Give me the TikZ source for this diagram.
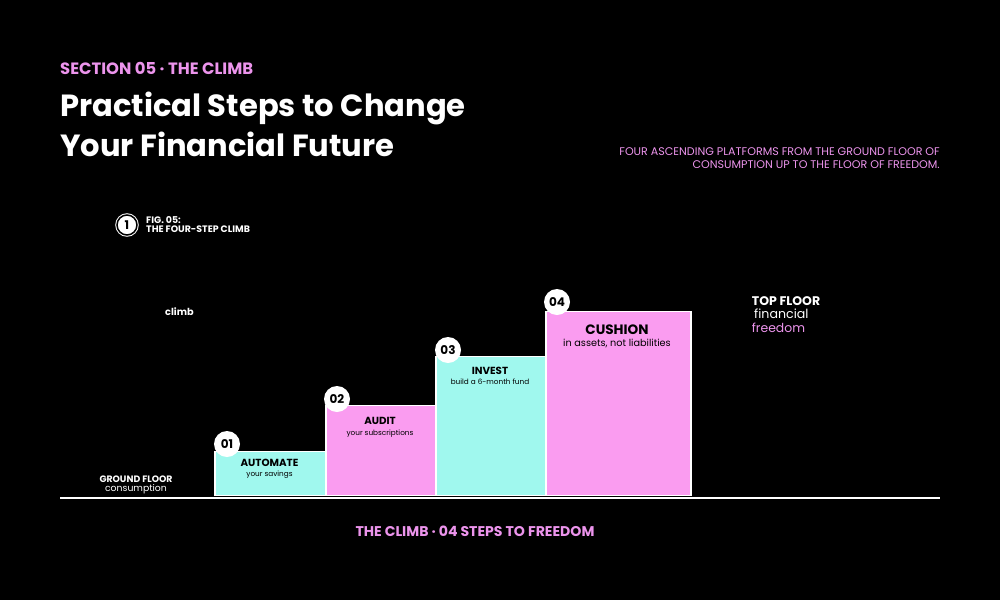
\documentclass[tikz,border=0pt]{standalone}
\usepackage{fontspec}
\setmainfont{Poppins}
\definecolor{pinktext}{HTML}{EC94EC}
\definecolor{stepcyan}{HTML}{A0F8EE}
\definecolor{steppink}{HTML}{FA9CF0}
\begin{document}
\begin{tikzpicture}[
	x=1pt, y=-1pt,
	every node/.style={inner sep=0pt, text=white},
	cyanstep/.style={shape=rectangle, fill=stepcyan, draw=white, line width=1.5pt, anchor=south west},
	pinkstep/.style={shape=rectangle, fill=steppink, draw=white, line width=1.5pt, anchor=south west},
	badge/.style={shape=circle, fill=white, minimum size=26pt, text=black, font=\fontsize{12}{12}\selectfont\bfseries},
	steptitle/.style={anchor=base, text=black, font=\fontsize{10.3}{11}\selectfont\bfseries},
	stepnote/.style={anchor=base, text=black, font=\fontsize{7.3}{8}\selectfont},
	floortitle/.style={font=\fontsize{9.3}{10}\selectfont\bfseries},
]
\fill[black] (0,0) rectangle (1000,600);
\node[anchor=base west, text=pinktext, font=\fontsize{16.4}{16}\selectfont\bfseries] (sec) at (60,74) {SECTION 05 · THE CLIMB};
\node[anchor=base west, font=\fontsize{30.6}{31}\selectfont\bfseries] (title1) at (60,116.5) {Practical Steps to Change};
\node[anchor=base west, font=\fontsize{30.6}{31}\selectfont\bfseries] (title2) at (60,156) {Your Financial Future};
\node[anchor=base east, text=pinktext, font=\fontsize{11.1}{11}\selectfont] (cap1) at (940,155.3) {FOUR ASCENDING PLATFORMS FROM THE GROUND FLOOR OF};
\node[anchor=base east, text=pinktext, font=\fontsize{11.1}{11}\selectfont] (cap2) at (940,168) {CONSUMPTION UP TO THE FLOOR OF FREEDOM.};

\node[shape=circle, fill=white, draw=white, line width=1pt, double=black, double distance=1.5pt, minimum size=20pt, text=black, font=\fontsize{12}{12}\selectfont\bfseries] (fig) at (127,225) {1};
\node[anchor=base west, font=\fontsize{9.4}{9}\selectfont\bfseries] (fig1) at (146,223.3) {FIG. 05:};
\node[anchor=base west, font=\fontsize{9.4}{9}\selectfont\bfseries] (fig2) at (146,232.7) {THE FOUR-STEP CLIMB};
\node[anchor=base west, font=\fontsize{9.7}{10}\selectfont\bfseries] (climb) at (165,315.7) {climb};

\node[cyanstep, minimum width=111pt, minimum height=44pt] (s1) at (214,496) {};
\node[pinkstep, minimum width=110pt, minimum height=90pt] (s2) at (325,496) {};
\node[cyanstep, minimum width=110pt, minimum height=139pt] (s3) at (435,496) {};
\node[pinkstep, minimum width=145pt, minimum height=184pt] (s4) at (545,496) {};
\coordinate (gl) at (60,498);
\coordinate (gr) at (940,498);
\draw[white, line width=1.5pt] (gl) -- (gr);

\node[badge] (b1) at (227,444) {01};
\node[badge] (b2) at (337,399) {02};
\node[badge] (b3) at (448,350) {03};
\node[badge] (b4) at (557,302) {04};

\node[steptitle] (t1) at (269.5,466.7) {AUTOMATE};
\node[stepnote] (n1) at (269.5,476) {your savings};
\node[steptitle] (t2) at (380,424.3) {AUDIT};
\node[stepnote] (n2) at (380,435.3) {your subscriptions};
\node[steptitle] (t3) at (490,374) {INVEST};
\node[stepnote] (n3) at (490,384) {build a 6-month fund};
\node[steptitle, font=\fontsize{13.6}{14}\selectfont\bfseries] (t4) at (617,334) {CUSHION};
\node[stepnote, font=\fontsize{9.7}{10}\selectfont] (n4) at (617,346.7) {in assets, not liabilities};

\node[floortitle, anchor=base] (ground) at (136,482.7) {GROUND FLOOR};
\node[anchor=base, font=\fontsize{9.3}{10}\selectfont] (groundnote) at (136,491.7) {consumption};
\node[anchor=base west, font=\fontsize{12.5}{13}\selectfont\bfseries] (top) at (751.7,305) {TOP FLOOR};
\node[anchor=base west, font=\fontsize{12.6}{13}\selectfont] (topnote1) at (754,318.3) {financial};
\node[anchor=base west, text=pinktext, font=\fontsize{12.4}{13}\selectfont] (topnote2) at (751.7,332.7) {freedom};

\node[anchor=base, text=pinktext, font=\fontsize{14.1}{14}\selectfont\bfseries] (foot) at (475,536) {THE CLIMB · 04 STEPS TO FREEDOM};
\end{tikzpicture}
\end{document}
